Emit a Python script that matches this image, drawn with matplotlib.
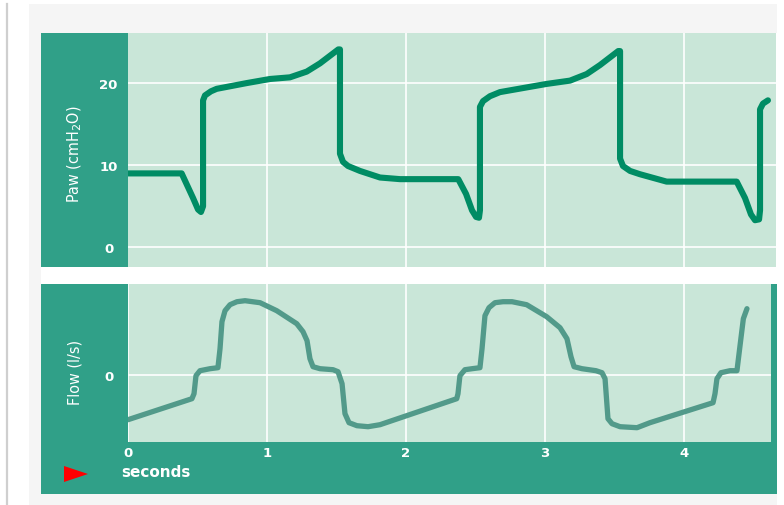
import numpy as np
import matplotlib
matplotlib.use("Agg")
import matplotlib.pyplot as plt
from matplotlib.patches import Rectangle, Polygon

# airway pressure trace (s, cmH2O)
paw_t = [0.0, 0.386, 0.468, 0.504, 0.525, 0.540, 0.540, 0.554, 0.597, 0.638,
         0.854, 1.022, 1.165, 1.286, 1.381, 1.513, 1.525, 1.525, 1.547, 1.583,
         1.669, 1.813, 1.957, 2.376, 2.432, 2.475, 2.504, 2.525, 2.532, 2.532,
         2.554, 2.604, 2.676, 3.012, 3.180, 3.300, 3.396, 3.527, 3.540, 3.540,
         3.561, 3.612, 3.683, 3.875, 4.379, 4.439, 4.482, 4.511, 4.540, 4.547,
         4.547, 4.568, 4.604]
paw_v = [9.0, 9.0, 6.0, 4.6, 4.3, 5.0, 17.9, 18.5, 19.0, 19.3,
         20.0, 20.5, 20.7, 21.4, 22.4, 24.1, 24.1, 11.4, 10.4, 9.9,
         9.3, 8.5, 8.3, 8.3, 6.5, 4.5, 3.7, 3.6, 4.5, 17.1,
         17.8, 18.4, 18.9, 19.9, 20.3, 21.1, 22.2, 23.9, 23.9, 10.8,
         9.9, 9.3, 8.9, 8.0, 8.0, 6.0, 4.0, 3.3, 3.4, 4.5,
         16.8, 17.5, 17.9]

# flow trace (s, l/s)
flow_t = [0.0, 0.460, 0.475, 0.489, 0.518, 0.590, 0.647, 0.662, 0.676, 0.698,
          0.734, 0.784, 0.842, 0.950, 1.070, 1.214, 1.259, 1.288, 1.309, 1.331,
          1.381, 1.475, 1.511, 1.540, 1.561, 1.590, 1.647, 1.727, 1.813, 2.365,
          2.374, 2.388, 2.424, 2.475, 2.532, 2.547, 2.568, 2.597, 2.640, 2.698,
          2.763, 2.868, 3.012, 3.108, 3.158, 3.187, 3.209, 3.266, 3.367, 3.410,
          3.432, 3.453, 3.482, 3.540, 3.662, 3.755, 4.209, 4.223, 4.237, 4.266,
          4.331, 4.381, 4.403, 4.427, 4.453]
flow_v = [-0.45, -0.24, -0.19, -0.01, 0.04, 0.06, 0.07, 0.26, 0.53, 0.64,
          0.70, 0.73, 0.74, 0.72, 0.64, 0.51, 0.43, 0.34, 0.16, 0.08,
          0.06, 0.05, 0.03, -0.09, -0.39, -0.48, -0.51, -0.52, -0.50, -0.24,
          -0.19, -0.01, 0.05, 0.06, 0.07, 0.26, 0.59, 0.67, 0.72, 0.73,
          0.73, 0.70, 0.58, 0.47, 0.36, 0.18, 0.08, 0.06, 0.04, 0.02,
          -0.04, -0.44, -0.49, -0.52, -0.53, -0.48, -0.28, -0.19, -0.04, 0.02,
          0.04, 0.04, 0.29, 0.56, 0.66]

paw_ticks = [0, 10, 20]
flow_ticks = [0]
time_ticks = [0, 1, 2, 3, 4]

TEAL = "#30a088"
PANEL = "#c9e6d8"
PAW_C = "#008c64"
FLOW_C = "#529a8a"

W, H = 784, 506
fig = plt.figure(figsize=(W / 100, H / 100), dpi=100)
fig.patch.set_facecolor("white")

# backdrop drawn in pixel space
bg = fig.add_axes([0, 0, 1, 1])
bg.set_xlim(0, W)
bg.set_ylim(H, 0)
bg.axis("off")
bg.plot([7.5, 7.5], [5, H], color="#cfcfcf", lw=1.6)
bg.add_patch(Rectangle((29, 5), 748, H - 5, color="#f5f5f5", lw=0))
bg.add_patch(Rectangle((41, 34), 736, 461, color="white", lw=0))
bg.add_patch(Rectangle((41, 34), 90, 234, color=TEAL, lw=0))
bg.add_patch(Rectangle((41, 285), 736, 210, color=TEAL, lw=0))
bg.add_patch(Polygon([(64, 467), (64, 483), (88, 475)], closed=True,
                     color="#ff0000", lw=0))
bg.text(121, 473, "seconds", color="white", fontsize=11, fontweight="bold",
        va="center", ha="left")

def fx(px):
    return px / W

def fy(py):
    return 1 - py / H

ax1 = fig.add_axes([fx(128), fy(268), fx(776) - fx(128), fy(34) - fy(268)])
ax2 = fig.add_axes([fx(128), fy(443), fx(771) - fx(128), fy(285) - fy(443)])

for ax in (ax1, ax2):
    ax.set_facecolor(PANEL)
    for s in ax.spines.values():
        s.set_visible(False)
    ax.grid(True, color="white", lw=1.2)
    ax.set_axisbelow(True)
    ax.tick_params(length=0, colors="white")

ax1.plot(paw_t, paw_v, color=PAW_C, lw=4.4, solid_capstyle="round",
         solid_joinstyle="round")
ax1.set_xlim(0, (776 - 128) / 139)
ax1.set_ylim(-2.4, 26.1)
ax1.set_xticks(time_ticks[1:])
ax1.set_xticklabels([])
ax1.set_yticks(paw_ticks)

ax2.plot(flow_t, flow_v, color=FLOW_C, lw=3.8, solid_capstyle="round",
         solid_joinstyle="round")
ax2.set_xlim(0, (771 - 128) / 139)
ax2.set_ylim(-0.673, 0.907)
ax2.set_xticks(time_ticks)
ax2.set_yticks(flow_ticks)
ax2.tick_params(axis="x", pad=3)

for ax in (ax1, ax2):
    ax.tick_params(axis="y", pad=14)
    for lab in ax.get_yticklabels():
        lab.set_horizontalalignment("center")
        lab.set_fontweight("bold")
        lab.set_fontsize(9.5)
    for lab in ax.get_xticklabels():
        lab.set_fontweight("bold")
        lab.set_fontsize(9.5)

fig.text(fx(75), fy(154), "Paw (cmH$_2$O)", rotation=90, color="white",
         fontsize=11.5, ha="center", va="center", fontstretch="condensed")
fig.text(fx(75), fy(372), "Flow (l/s)", rotation=90, color="white",
         fontsize=11.5, ha="center", va="center", fontstretch="condensed")

fig.savefig("out.png", dpi=100)
